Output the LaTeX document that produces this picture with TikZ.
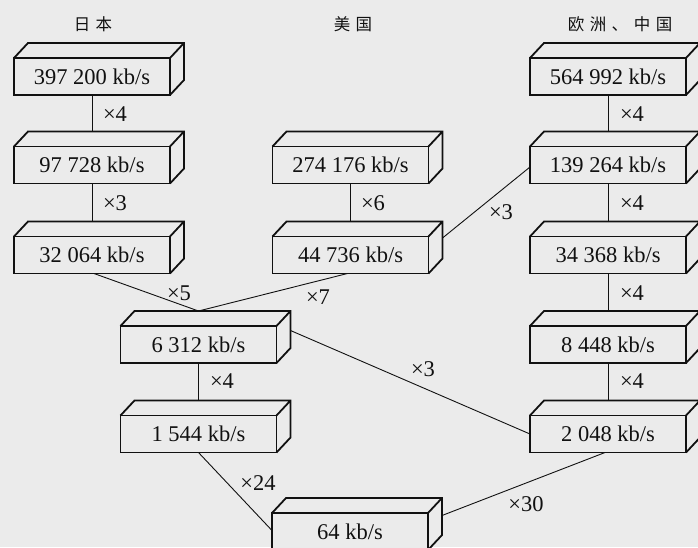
\documentclass[tikz,border=0pt]{standalone}
\usepackage{fontspec}
\setmainfont{Liberation Serif}
\newfontfamily\cjk{Noto Sans CJK SC}
\definecolor{paper}{HTML}{EBEBEB}
\definecolor{ink}{HTML}{111111}

\tikzset{
  ratebox/.style={draw=ink, fill=paper, line width=1.8pt, outer sep=0pt, inner sep=0pt,
    minimum width=156pt, minimum height=37pt, text height=15pt, text depth=0pt,
    text=ink, font=\fontsize{22.5}{24}\selectfont},
  faceline/.style={draw=ink, line width=1.8pt, line join=miter},
  link/.style={draw=ink, line width=0.9pt},
  factor/.style={inner sep=0pt, text=ink, font=\fontsize{22.5}{24}\selectfont},
  region/.style={inner sep=0pt, text=ink, font=\cjk\fontsize{16.5}{18}\selectfont},
}

% A rate box: front face is the named node, top and side faces drawn behind it
\newcommand\rateBox[3]{%
  \node[ratebox] (#1) at (#2) {#3};
  \draw[faceline] (#1.north west) -- ++(14pt,15pt)
    -- ([shift={(14pt,15pt)}]#1.north east)
    -- ([shift={(14pt,15pt)}]#1.south east) -- (#1.south east)
    (#1.north east) -- ++(14pt,15pt);
}

\begin{document}
\begin{tikzpicture}[x=1pt,y=-1pt]
\fill[paper] (0,0) rectangle (698,547);
\useasboundingbox (0,0) rectangle (698,547);

% column headings
\node[region] (hjp) at (93,24) {日\hspace{5.5pt}本};
\node[region] (hus) at (353,24) {美\hspace{5.5pt}国};
\node[region] (heu) at (620,24) {欧\hspace{5.5pt}洲\hspace{5.5pt}、\hspace{5.5pt}中\hspace{5.5pt}国};

% Japanese hierarchy
\rateBox{j1}{92,76.5}{397 200 kb/s}
\rateBox{j2}{92,165}{97 728 kb/s}
\rateBox{j3}{92,255}{32 064 kb/s}

% North American hierarchy
\rateBox{u1}{350.5,165}{274 176 kb/s}
\rateBox{u2}{350.5,255}{44 736 kb/s}

% European / Chinese hierarchy
\rateBox{e1}{608,76.5}{564 992 kb/s}
\rateBox{e2}{608,165}{139 264 kb/s}
\rateBox{e3}{608,255}{34 368 kb/s}
\rateBox{e4}{608,344.5}{8 448 kb/s}
\rateBox{e5}{608,434}{2 048 kb/s}

% shared lower levels
\rateBox{m1}{198.5,344.5}{6 312 kb/s}
\rateBox{m2}{198.5,434}{1 544 kb/s}
\rateBox{b0}{350,531.5}{64 kb/s}

% multiplexing links
\draw[link] (j1.south) -- ([yshift=15pt]j2.north);
\draw[link] (j2.south) -- ([yshift=15pt]j3.north);
\draw[link] (u1.south) -- ([yshift=15pt]u2.north);
\draw[link] (e1.south) -- ([yshift=15pt]e2.north);
\draw[link] (e2.south) -- ([yshift=15pt]e3.north);
\draw[link] (e3.south) -- ([yshift=15pt]e4.north);
\draw[link] (e4.south) -- ([yshift=15pt]e5.north);
\draw[link] (m1.south) -- ([yshift=15pt]m2.north);
\draw[link] ([xshift=2pt]j3.south) -- ([yshift=15pt]m1.north);
\draw[link] ([xshift=-3pt]u2.south) -- ([yshift=15pt]m1.north);
\draw[link] ([shift={(14pt,17pt)}]u2.east) -- ([yshift=-2pt]e2.west);
\draw[link] ([shift={(14pt,14pt)}]m1.east) -- (e5.west);
\draw[link] (m2.south) -- ([yshift=1pt]b0.west);
\draw[link] ([xshift=-3pt]e5.south) -- ([shift={(14pt,16pt)}]b0.east);

% multiplexing factors
\node[factor] (fj1) at (115,114) {×4};
\node[factor] (fj2) at (115,203) {×3};
\node[factor] (fu1) at (373,203) {×6};
\node[factor] (fe1) at (632,114) {×4};
\node[factor] (fe2) at (632,203) {×4};
\node[factor] (fe3) at (632,293) {×4};
\node[factor] (fe4) at (632,381) {×4};
\node[factor] (fm1) at (222,381) {×4};
\node[factor] (fux) at (501,212) {×3};
\node[factor] (fj5) at (179,293) {×5};
\node[factor] (fu7) at (318,297) {×7};
\node[factor] (fm3) at (423,369) {×3};
\node[factor] (f24) at (258,483) {×24};
\node[factor] (f30) at (526,504) {×30};
\end{tikzpicture}
\end{document}
